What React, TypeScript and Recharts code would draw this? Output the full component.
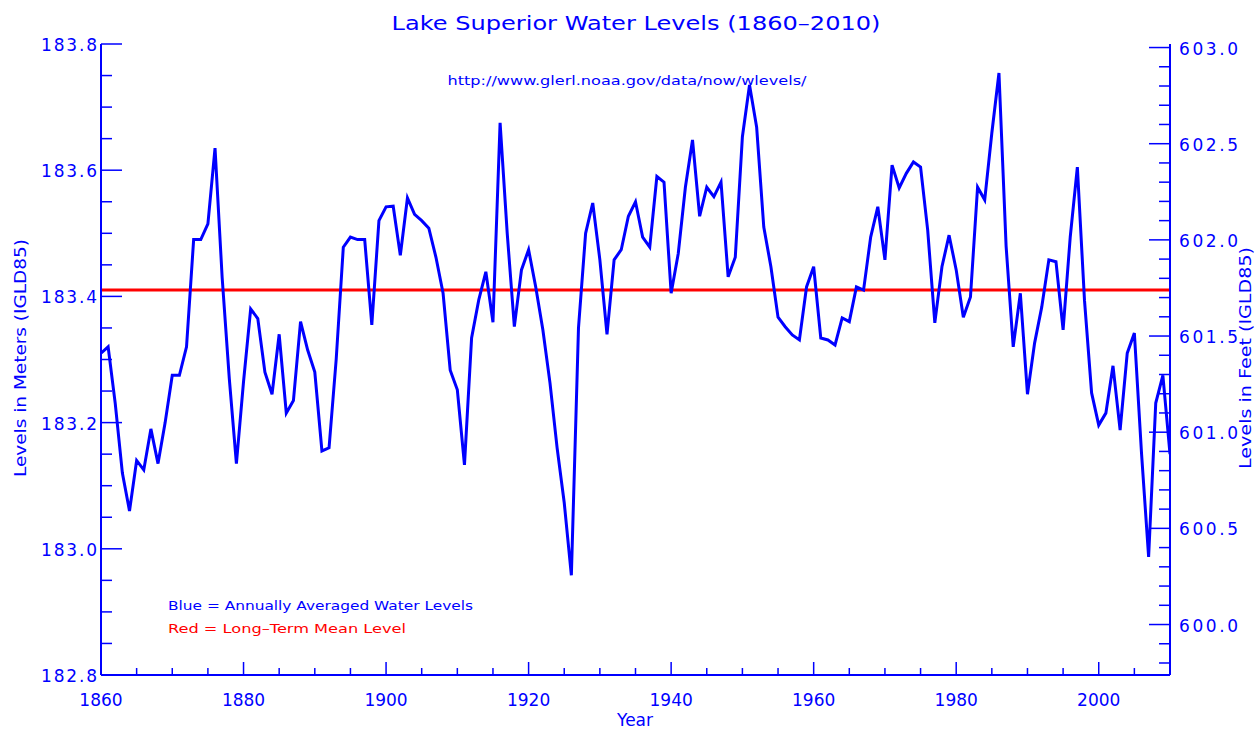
import React from 'react';
import { LineChart, Line, XAxis, YAxis, ReferenceLine } from 'recharts';

// ---- data ----
const START_YEAR = 1860;
// Annually averaged water levels (m, IGLD85), one per year 1860..2010
const LEVELS_1860s = [183.31, 183.32, 183.23, 183.12, 183.06, 183.14, 183.125, 183.19, 183.135, 183.2];
const LEVELS_1870s = [183.275, 183.275, 183.32, 183.49, 183.49, 183.515, 183.635, 183.43, 183.27, 183.135];
const LEVELS_1880s = [183.265, 183.38, 183.365, 183.28, 183.245, 183.34, 183.215, 183.235, 183.36, 183.315];
const LEVELS_1890s = [183.28, 183.155, 183.16, 183.3, 183.478, 183.494, 183.49, 183.49, 183.355, 183.52];
const LEVELS_1900s = [183.542, 183.543, 183.465, 183.556, 183.53, 183.52, 183.508, 183.462, 183.405, 183.283];
const LEVELS_1910s = [183.252, 183.133, 183.334, 183.394, 183.439, 183.359, 183.675, 183.5, 183.352, 183.442];
const LEVELS_1920s = [183.474, 183.415, 183.347, 183.263, 183.16, 183.073, 182.958, 183.35, 183.5, 183.548];
const LEVELS_1930s = [183.458, 183.34, 183.458, 183.474, 183.527, 183.55, 183.494, 183.478, 183.59, 183.581];
const LEVELS_1940s = [183.405, 183.468, 183.573, 183.648, 183.527, 183.573, 183.558, 183.581, 183.431, 183.462];
const LEVELS_1950s = [183.653, 183.735, 183.668, 183.51, 183.447, 183.367, 183.352, 183.339, 183.331, 183.415];
const LEVELS_1960s = [183.447, 183.334, 183.331, 183.323, 183.366, 183.36, 183.415, 183.41, 183.494, 183.542];
const LEVELS_1970s = [183.458, 183.608, 183.572, 183.595, 183.613, 183.605, 183.505, 183.358, 183.447, 183.497];
const LEVELS_1980s = [183.442, 183.367, 183.399, 183.573, 183.553, 183.659, 183.754, 183.48, 183.32, 183.405];
const LEVELS_1990s = [183.245, 183.326, 183.383, 183.458, 183.455, 183.347, 183.494, 183.605, 183.394, 183.247];
const LEVELS_2000s = [183.196, 183.215, 183.29, 183.188, 183.31, 183.342, 183.152, 182.987, 183.231, 183.275, 183.15];

const LEVELS = [
  ...LEVELS_1860s, ...LEVELS_1870s, ...LEVELS_1880s, ...LEVELS_1890s, ...LEVELS_1900s,
  ...LEVELS_1910s, ...LEVELS_1920s, ...LEVELS_1930s, ...LEVELS_1940s, ...LEVELS_1950s,
  ...LEVELS_1960s, ...LEVELS_1970s, ...LEVELS_1980s, ...LEVELS_1990s, ...LEVELS_2000s,
];

const MEAN_LEVEL = 183.41;
const M_TO_FT = 3.28084;

const X_DOMAIN = [1860, 2010];
const M_DOMAIN = [182.8, 183.8];
const YEAR_TICKS = [1860, 1865, 1870, 1875, 1880, 1885, 1890, 1895, 1900, 1905, 1910, 1915, 1920, 1925, 1930, 1935, 1940, 1945, 1950, 1955, 1960, 1965, 1970, 1975, 1980, 1985, 1990, 1995, 2000, 2005, 2010];
const METER_TICKS = [182.8, 182.85, 182.9, 182.95, 183.0, 183.05, 183.1, 183.15, 183.2, 183.25, 183.3, 183.35, 183.4, 183.45, 183.5, 183.55, 183.6, 183.65, 183.7, 183.75, 183.8];
const FEET_TICKS = [599.8, 599.9, 600.0, 600.1, 600.2, 600.3, 600.4, 600.5, 600.6, 600.7, 600.8, 600.9, 601.0, 601.1, 601.2, 601.3, 601.4, 601.5, 601.6, 601.7, 601.8, 601.9, 602.0, 602.1, 602.2, 602.3, 602.4, 602.5, 602.6, 602.7, 602.8, 602.9, 603.0];

const TITLE = 'Lake Superior Water Levels (1860\u20132010)';
const URL_TEXT = 'http://www.glerl.noaa.gov/data/now/wlevels/';
const LEGEND_BLUE = 'Blue = Annually Averaged Water Levels';
const LEGEND_RED = 'Red = Long\u2013Term Mean Level';

const data = LEVELS.map((v, i) => ({ year: START_YEAR + i, level: v }));

// ---- styles ----
const BLUE = '#0000ff';
const RED = '#ff0000';
const FONT = 'DejaVu Sans';

const isMult = (v: number, step: number) => Math.abs(v / step - Math.round(v / step)) < 1e-6;

const LeftTick = (props: any) => {
  const { x, y, payload } = props;
  const v = payload.value;
  const major = isMult(v, 0.2);
  return (
    <g>
      <line x1={x} x2={x + (major ? 21 : 11)} y1={y} y2={y} stroke={BLUE} strokeWidth={1.5} />
      {major && (
        <text x={x - 4} y={y + 1} textAnchor="end" dominantBaseline="central" fill={BLUE} fontSize={17} fontFamily={FONT} textLength={56} lengthAdjust="spacing">
          {v.toFixed(1)}
        </text>
      )}
    </g>
  );
};

const RightTick = (props: any) => {
  const { x, y, payload } = props;
  const v = payload.value;
  const major = isMult(v, 0.5);
  return (
    <g>
      <line x1={x} x2={x - (major ? 21 : 11)} y1={y} y2={y} stroke={BLUE} strokeWidth={1.5} />
      {major && (
        <text x={x + 9} y={y + 1} textAnchor="start" dominantBaseline="central" fill={BLUE} fontSize={17} fontFamily={FONT} textLength={59} lengthAdjust="spacing">
          {v.toFixed(1)}
        </text>
      )}
    </g>
  );
};

const BottomTick = (props: any) => {
  const { x, y, payload } = props;
  const v = payload.value;
  const major = isMult(v, 20);
  return (
    <g>
      <line x1={x} x2={x} y1={y} y2={y - (major ? 13 : 7)} stroke={BLUE} strokeWidth={1.5} />
      {major && (
        <text x={x} y={y + 31} textAnchor="middle" fill={BLUE} fontSize={17} fontFamily={FONT}>
          {String(v)}
        </text>
      )}
    </g>
  );
};

const TopTick = (props: any) => {
  const { x, y, payload } = props;
  const v = payload.value;
  const major = isMult(v, 20);
  return (
    <g>
      <line x1={x} x2={x} y1={y} y2={y + (major ? 13 : 7)} stroke={BLUE} strokeWidth={1.5} />
    </g>
  );
};

export default function App() {
  return (
    <div style={{ position: 'absolute', left: 0, top: 0, width: 1257, height: 732, background: '#fff' }}>
      <LineChart width={1257} height={732} data={data} margin={{ top: 44, right: 0, bottom: 0, left: 0 }}>
        <XAxis
          dataKey="year"
          type="number"
          domain={X_DOMAIN}
          ticks={YEAR_TICKS}
          interval={0}
          allowDataOverflow
          height={57}
          tickSize={0}
          tickMargin={0}
          tickLine={false}
          axisLine={{ stroke: BLUE, strokeWidth: 2 }}
          tick={BottomTick}
        />
        <XAxis
          xAxisId="top"
          orientation="top"
          dataKey="year"
          type="number"
          domain={X_DOMAIN}
          ticks={YEAR_TICKS}
          interval={0}
          allowDataOverflow
          height={0}
          tickSize={0}
          tickMargin={0}
          tickLine={false}
          axisLine={{ stroke: BLUE, strokeWidth: 2 }}
          tick={TopTick}
        />
        <YAxis
          type="number"
          domain={M_DOMAIN}
          ticks={METER_TICKS}
          interval={0}
          allowDataOverflow
          width={101}
          tickSize={0}
          tickMargin={0}
          tickLine={false}
          axisLine={{ stroke: BLUE, strokeWidth: 2 }}
          tick={LeftTick}
        />
        <YAxis
          yAxisId="ft"
          orientation="right"
          type="number"
          domain={[M_DOMAIN[0] * M_TO_FT, M_DOMAIN[1] * M_TO_FT]}
          ticks={FEET_TICKS}
          interval={0}
          allowDataOverflow
          width={87}
          tickSize={0}
          tickMargin={0}
          tickLine={false}
          axisLine={{ stroke: BLUE, strokeWidth: 2 }}
          tick={RightTick}
        />
        <ReferenceLine y={MEAN_LEVEL} stroke={RED} strokeWidth={3} ifOverflow="extendDomain" />
        <Line
          type="linear"
          dataKey="level"
          stroke={BLUE}
          strokeWidth={3}
          dot={false}
          activeDot={false}
          isAnimationActive={false}
        />
      </LineChart>
      <svg
        width={1257}
        height={732}
        style={{ position: 'absolute', left: 0, top: 0, pointerEvents: 'none' }}
        fontFamily={FONT}
      >
        <text x={636} y={30} textAnchor="middle" fill={BLUE} fontSize={20} textLength={489} lengthAdjust="spacingAndGlyphs">{TITLE}</text>
        <text x={627} y={85} textAnchor="middle" fill={BLUE} fontSize={13} textLength={359} lengthAdjust="spacingAndGlyphs">{URL_TEXT}</text>
        <text x={168} y={610} fill={BLUE} fontSize={13} textLength={305} lengthAdjust="spacingAndGlyphs">{LEGEND_BLUE}</text>
        <text x={168} y={633} fill={RED} fontSize={13} textLength={238} lengthAdjust="spacingAndGlyphs">{LEGEND_RED}</text>
        <text x={635} y={726} textAnchor="middle" fill={BLUE} fontSize={17}>Year</text>
        <text x={26} y={358} transform="rotate(-90 26 358)" textAnchor="middle" fill={BLUE} fontSize={16} textLength={238} lengthAdjust="spacingAndGlyphs">Levels in Meters (IGLD85)</text>
        <text x={1251} y={358} transform="rotate(-90 1251 358)" textAnchor="middle" fill={BLUE} fontSize={16} textLength={222} lengthAdjust="spacingAndGlyphs">Levels in Feet (IGLD85)</text>
      </svg>
    </div>
  );
}
